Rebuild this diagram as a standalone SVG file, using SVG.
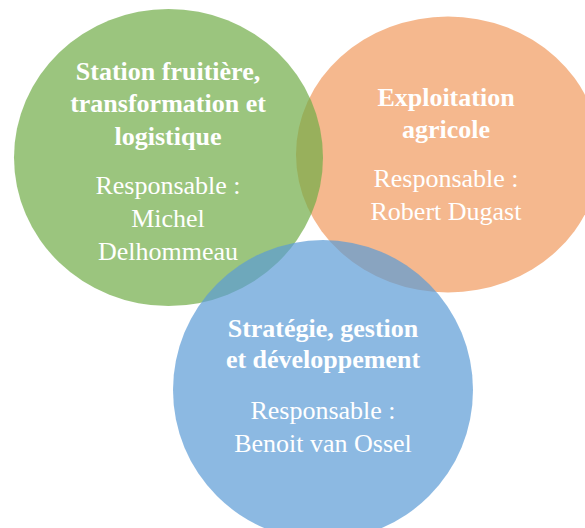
<svg xmlns="http://www.w3.org/2000/svg" width="585" height="528" viewBox="0 0 585 528">
<style>
text{font-family:"Liberation Serif","Times New Roman",serif;font-size:26px;fill:#fff;text-anchor:middle}
.t{font-weight:bold}
</style>
<rect width="585" height="528" fill="#fff"/>
<g id="orange"><ellipse cx="448" cy="154.5" rx="152" ry="138" fill="#ED7D31" fill-opacity="0.55"/></g>
<g id="green"><ellipse cx="168.5" cy="157.5" rx="154.5" ry="148.5" fill="#70AD47" fill-opacity="0.7"/></g>
<g id="blue"><ellipse cx="323" cy="390" rx="150" ry="150" fill="#5B9BD5" fill-opacity="0.7"/></g>
<g id="green-text">
<text class="t" x="168" y="80">Station fruitière,</text>
<text class="t" x="168" y="112">transformation et</text>
<text class="t" x="168" y="145">logistique</text>
<text x="168" y="194">Responsable :</text>
<text x="168" y="227">Michel</text>
<text x="168" y="260">Delhommeau</text>
</g>
<g id="orange-text">
<text class="t" x="446" y="106">Exploitation</text>
<text class="t" x="446" y="138">agricole</text>
<text x="446" y="187">Responsable :</text>
<text x="446" y="220">Robert Dugast</text>
</g>
<g id="blue-text">
<text class="t" x="323" y="337">Stratégie, gestion</text>
<text class="t" x="323" y="368">et développement</text>
<text x="323" y="419">Responsable :</text>
<text x="323" y="452">Benoit van Ossel</text>
</g>
<g id="connectors"/>
</svg>
